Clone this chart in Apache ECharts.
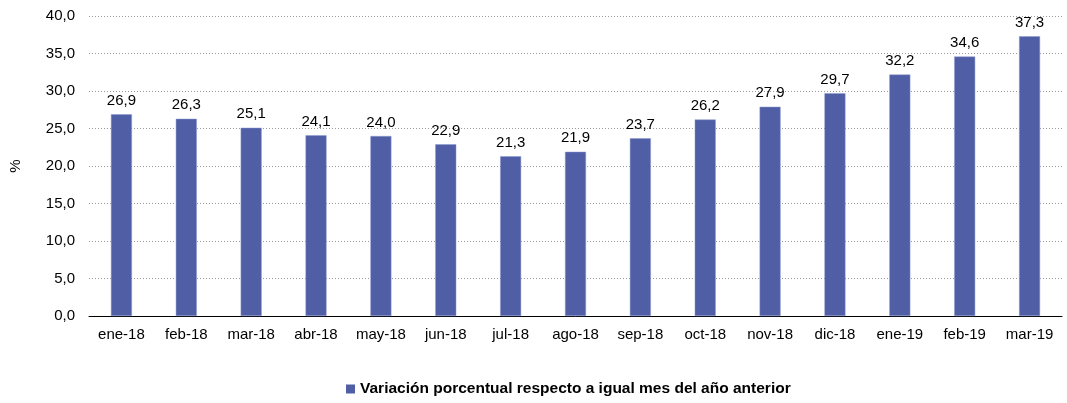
<!DOCTYPE html>
<html>
<head>
<meta charset="utf-8">
<script src="https://cdn.jsdelivr.net/npm/echarts@6/dist/echarts.min.js"></script>
<style>
  html, body { margin: 0; padding: 0; background: #fff; }
  #chart { width: 1067px; height: 403px; }
</style>
</head>
<body>
<div id="chart"></div>
<script>
// meses
const months = ['ene-18', 'feb-18', 'mar-18', 'abr-18', 'may-18', 'jun-18', 'jul-18', 'ago-18',
  'sep-18', 'oct-18', 'nov-18', 'dic-18', 'ene-19', 'feb-19', 'mar-19'];
// variación % respecto a igual mes del año anterior
const variacion = [26.9, 26.3, 25.1, 24.1, 24.0, 22.9, 21.3, 21.9, 23.7, 26.2, 27.9, 29.7, 32.2, 34.6, 37.3];
const seriesName = 'Variación porcentual respecto a igual mes del año anterior';

const fmt = v => v.toFixed(1).replace('.', ',');

const chart = echarts.init(document.getElementById('chart'));
chart.setOption({
  animation: false,
  textStyle: { fontFamily: 'Liberation Sans, Arial, sans-serif' },
  grid: { left: 86, right: 5, top: 16, bottom: 87 },
  legend: {
    bottom: 1,
    left: 341,
    itemWidth: 9,
    itemHeight: 9,
    itemGap: 4,
    icon: 'rect',
    itemStyle: { borderWidth: 0 },
    textStyle: { fontSize: 15.5, fontWeight: 'bold', color: '#000' },
    data: [seriesName]
  },
  xAxis: {
    type: 'category',
    data: months,
    axisLine: { lineStyle: { color: '#000', width: 1 } },
    axisTick: { show: false },
    axisLabel: { color: '#000', fontSize: 15, margin: 11, interval: 0 }
  },
  yAxis: {
    type: 'value',
    min: 0,
    max: 40,
    interval: 5,
    name: '%',
    nameLocation: 'middle',
    nameGap: 66,
    nameTextStyle: { color: '#000', fontSize: 15 },
    axisLine: { show: false },
    axisTick: { show: false },
    axisLabel: { color: '#000', fontSize: 15, margin: 14, formatter: v => fmt(v) },
    splitLine: { lineStyle: { color: '#999', type: [1, 2], width: 1 } }
  },
  series: [{
    name: seriesName,
    type: 'bar',
    data: variacion,
    barWidth: 21,
    itemStyle: { color: '#4f5ea5', borderColor: '#8f9ad0', borderWidth: 0.5 },
    label: {
      show: true,
      position: 'top',
      distance: 6,
      color: '#000',
      fontSize: 15,
      formatter: p => fmt(p.value)
    }
  }]
});
</script>
</body>
</html>
